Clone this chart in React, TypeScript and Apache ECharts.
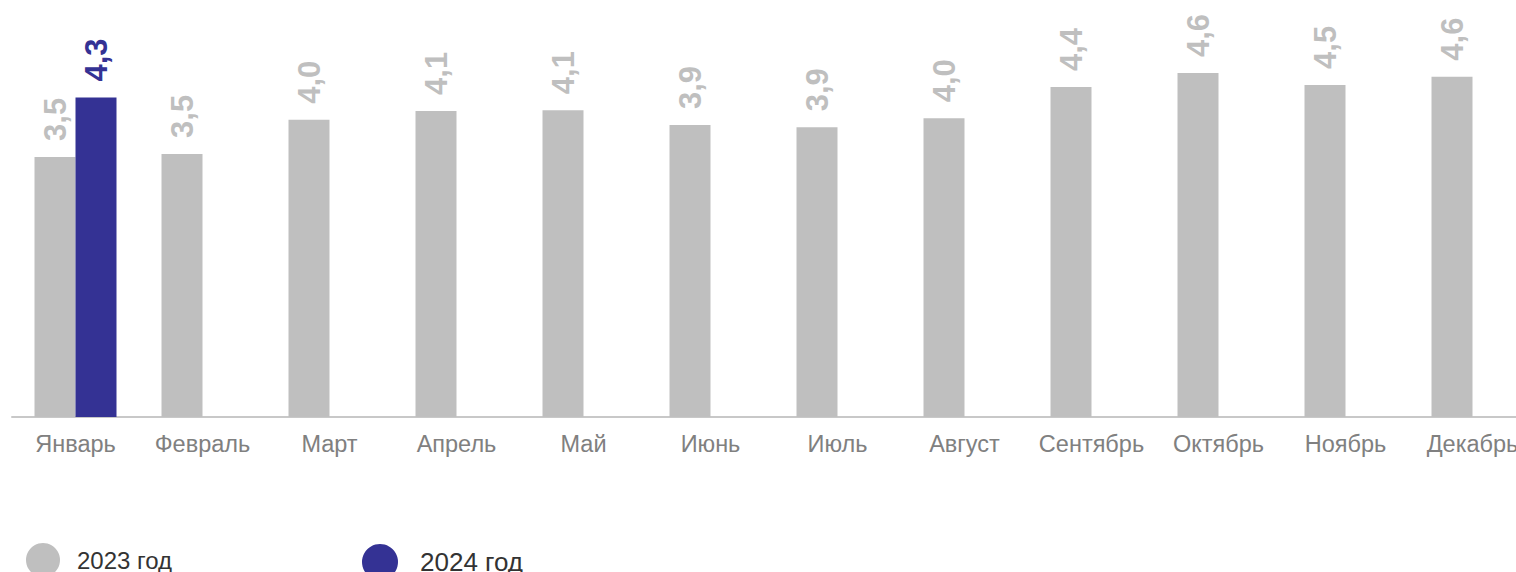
import React, { useEffect, useRef } from "react";
import * as echarts from "echarts";

const categories = ["Январь", "Февраль", "Март", "Апрель", "Май", "Июнь", "Июль", "Август", "Сентябрь", "Октябрь", "Ноябрь", "Декабрь"];
const values2023 = [3.5, 3.54, 4.0, 4.12, 4.13, 3.93, 3.9, 4.02, 4.44, 4.63, 4.47, 4.58];
const values2024: (number | null)[] = [4.3, null, null, null, null, null, null, null, null, null, null, null];
const seriesNames = ["2023 год", "2024 год"];

const GRAY = "#bfbfbf";
const BLUE = "#343294";
const FONT = "Liberation Sans, Arial, sans-serif";

const fmt = (p: any) => (p.value == null ? "" : Number(p.value).toFixed(1).replace(".", ","));

export default function App() {
  const ref = useRef<HTMLDivElement>(null);
  useEffect(() => {
    if (!ref.current) return;
    const chart = echarts.init(ref.current, null, { renderer: "svg" });
    const labelBase = {
      show: true,
      position: "top",
      rotate: 90,
      align: "left",
      verticalAlign: "middle",
      distance: 16,
      fontFamily: FONT,
      fontWeight: "bold",
      fontSize: 31,
      formatter: fmt,
    };
    chart.setOption({
      animation: false,
      grid: { left: 12, width: 1524, top: 45.5, bottom: 155, containLabel: false },
      legend: [
        {
          left: 21,
          top: 538,
          icon: "circle",
          itemWidth: 34,
          itemHeight: 34,
          data: [seriesNames[0]],
          textStyle: { fontFamily: FONT, fontSize: 24, color: "#333333", padding: [0, 0, 0, 12] },
        },
        {
          left: 357,
          top: 539,
          icon: "circle",
          itemWidth: 36,
          itemHeight: 36,
          data: [seriesNames[1]],
          textStyle: { fontFamily: FONT, fontSize: 26, color: "#333333", padding: [0, 0, 0, 17] },
        },
      ],
      xAxis: {
        type: "category",
        data: categories,
        axisLine: { show: true, lineStyle: { color: "#c8c8c8", width: 2 } },
        axisTick: { show: false },
        axisLabel: {
          color: "#808080",
          fontSize: 23.5,
          fontFamily: FONT,
          margin: 15,
          interval: 0,
        },
      },
      yAxis: {
        type: "value",
        min: 0,
        max: 5,
        show: false,
        splitLine: { show: false },
      },
      series: [
        {
          name: seriesNames[0],
          type: "bar",
          data: values2023,
          barWidth: 41,
          barGap: "0%",
          itemStyle: { color: GRAY },
          label: { ...labelBase, color: GRAY },
        },
        {
          name: seriesNames[1],
          type: "bar",
          data: values2024,
          barWidth: 41,
          barGap: "0%",
          itemStyle: { color: BLUE },
          label: { ...labelBase, color: BLUE },
        },
      ],
    });
    return () => chart.dispose();
  }, []);
  return (
    <div style={{ position: "fixed", left: 0, top: 0, width: "100vw", height: "100vh", overflow: "hidden", background: "#fff" }}>
      <div ref={ref} style={{ position: "absolute", left: 0, top: 0, width: 1540, height: 572 }} />
    </div>
  );
}
